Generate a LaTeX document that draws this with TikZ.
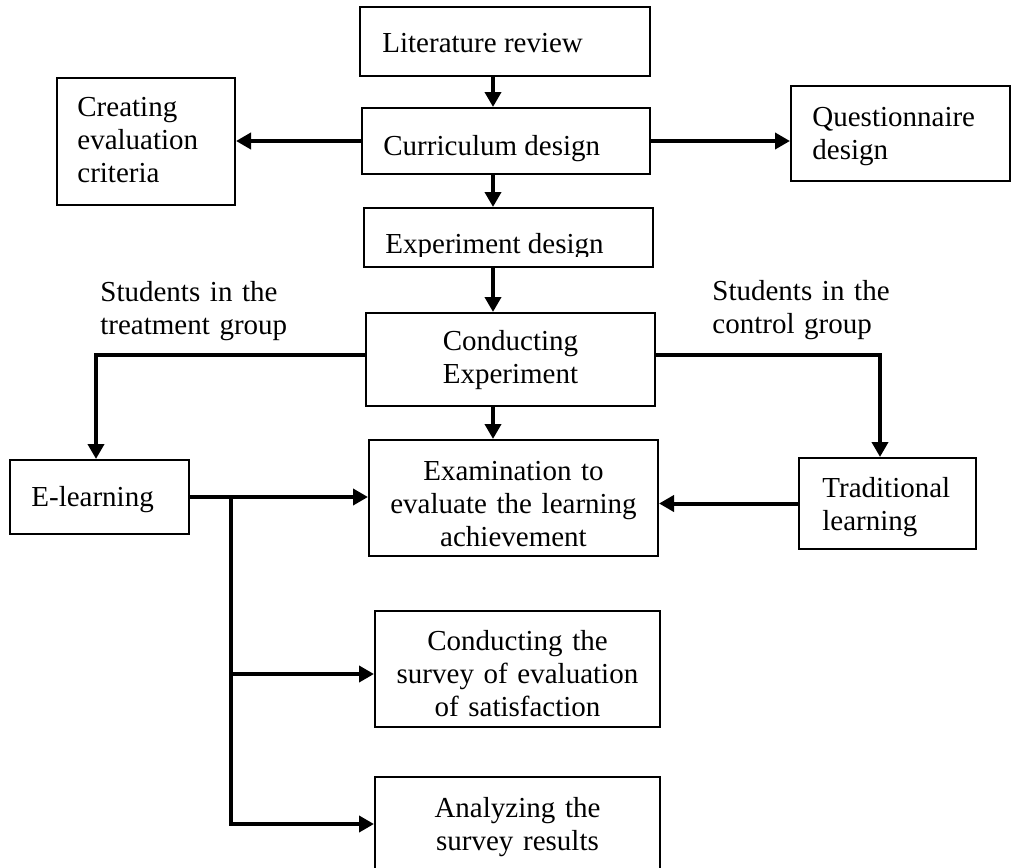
\documentclass[tikz,border=0pt]{standalone}
\usepackage{fontspec}
\setmainfont{Liberation Serif}
\usetikzlibrary{arrows.meta,calc}
\begin{document}
\begin{tikzpicture}[x=0.5pt,y=-0.5pt,
  box/.style={draw, line width=1pt, inner sep=0pt, rectangle},
  txt/.style={inner sep=0pt, font=\fontsize{14.5}{16.6}\selectfont},
  conn/.style={line width=2pt},
  arr/.style={line width=2pt, -{Triangle[length=7.5pt,width=8pt]}}]
\path[use as bounding box, clip] (0,0) rectangle (1011,867);
\fill[white] (0,0) rectangle (1011,867);
% boxes
\node[box, minimum width=145pt, minimum height=34.5pt] (lit) at (505,41.5) {};
\node[box, minimum width=144pt, minimum height=33pt] (cur) at (506,141) {};
\node[box, minimum width=89pt, minimum height=63.5pt] (cre) at (146,141.5) {};
\node[box, minimum width=109.5pt, minimum height=47.5pt] (que) at (900.5,133.5) {};
\node[box, minimum width=144.5pt, minimum height=29.5pt] (exp) at (508.5,237.5) {};
\node[box, minimum width=144.5pt, minimum height=46.5pt] (con) at (510.5,359.5) {};
\node[box, minimum width=89.5pt, minimum height=37pt] (ele) at (99.5,497) {};
\node[box, minimum width=144.5pt, minimum height=58pt] (exa) at (513.5,498) {};
\node[box, minimum width=88.5pt, minimum height=45.5pt] (tra) at (887.5,503.5) {};
\node[box, minimum width=142.5pt, minimum height=58pt] (sur) at (517.5,669) {};
\node[box, minimum width=142.5pt, minimum height=51.5pt] (ana) at (517.5,828.5) {};
% helper coordinates
\coordinate (ax) at (493,0);
\coordinate (bx) at (231,0);
\coordinate (lx) at (96,0);
\coordinate (rx) at (880,0);
\coordinate (ly) at (0,355);
\coordinate (sy) at (0,674);
\coordinate (ay) at (0,824);
% connectors
\draw[arr] (lit.south -| ax) -- (cur.north -| ax);
\draw[arr] (cur.south -| ax) -- (exp.north -| ax);
\draw[arr] (exp.south -| ax) -- (con.north -| ax);
\draw[arr] (con.south -| ax) -- (exa.north -| ax);
\draw[arr] (cur.west) -- (cur.west -| cre.east);
\draw[arr] (cur.east) -- (cur.east -| que.west);
\draw[arr] (con.west |- ly) -| (lx |- ele.north);
\draw[arr] (con.east |- ly) -| (rx |- tra.north);
\draw[arr] (ele.east) -- (ele.east -| exa.west);
\draw[arr] (tra.west) -- (tra.west -| exa.east);
\draw[arr] (ele.east -| bx) |- (ana.west |- ay);
\draw[arr] (bx |- sy) -- (sur.west |- sy);
% texts
\node[txt, anchor=base west] (tlit) at (382,52) {Literature review};
\node[txt, anchor=base west] (tcur) at (383,155) {Curriculum design};
\begin{scope}
\clip (364,208) rectangle (653,256);
\node[txt, anchor=base west] (texp) at (385,253) {Experiment design};
\end{scope}
\node[txt, anchor=base west, text width=90pt, align=left] (tcre) at (77,116) {Creating\\evaluation\\criteria};
\node[txt, anchor=base west, text width=100pt, align=left] (tque) at (812,126) {Questionnaire\\design};
\node[txt, anchor=base west, text width=120pt, align=left] (ttre) at (100,301) {Students in the\\treatment group};
\node[txt, anchor=base west, text width=120pt, align=left] (tctl) at (712,300) {Students in the\\control group};
\node[txt, anchor=base, text width=140pt, align=center] (tcon) at (510.5,350) {Conducting\\Experiment};
\node[txt, anchor=base, text width=140pt, align=center] (texa) at (513.5,480) {Examination to\\evaluate the learning\\achievement};
\node[txt, anchor=base west] (tele) at (31,506) {E-learning};
\node[txt, anchor=base west, text width=85pt, align=left] (ttra) at (822,497) {Traditional\\learning};
\node[txt, anchor=base, text width=140pt, align=center] (tsur) at (517.5,650) {Conducting the\\survey of evaluation\\of satisfaction};
\node[txt, anchor=base, text width=140pt, align=center] (tana) at (517.5,817) {Analyzing the\\survey results};
\end{tikzpicture}
\end{document}
